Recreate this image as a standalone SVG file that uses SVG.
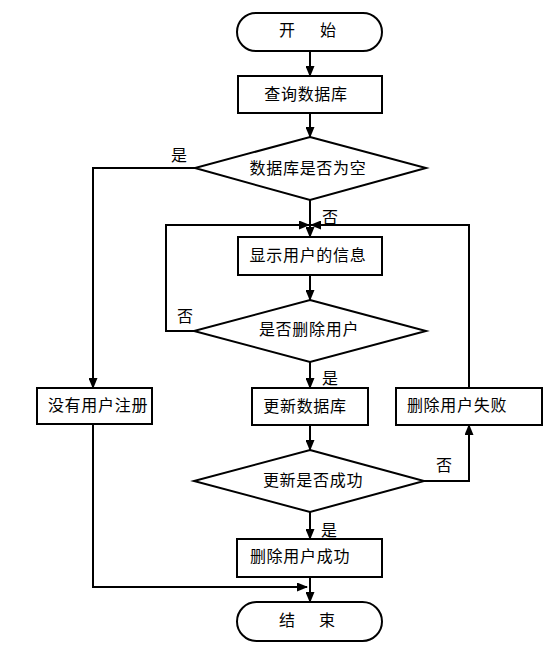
<svg xmlns="http://www.w3.org/2000/svg" width="560" height="649" viewBox="0 0 560 649">
<style>
.s{fill:#fff;stroke:#000;stroke-width:2}
.c{fill:none;stroke:#000;stroke-width:2}
text{font-family:"Noto Sans CJK SC","Liberation Sans",sans-serif;font-size:16px;fill:#000;dominant-baseline:central;letter-spacing:0.7px}
.m{text-anchor:middle}
</style>
<defs>
<marker id="a" markerUnits="userSpaceOnUse" markerWidth="11" markerHeight="9" refX="10" refY="4.5" orient="auto">
<path d="M0,0 L11,4.5 L0,9 z" fill="#000"/>
</marker>
</defs>
<rect width="560" height="649" fill="#fff"/>
<g id="connectors">
<path class="c" d="M310,51 V76" marker-end="url(#a)"/>
<path class="c" d="M310,113 V137" marker-end="url(#a)"/>
<path class="c" d="M310,200 V237" marker-end="url(#a)"/>
<path class="c" d="M195,168 H93 V388" marker-end="url(#a)"/>
<path class="c" d="M310,275 V300" marker-end="url(#a)"/>
<path class="c" d="M194,331 H166 V225 H309" marker-end="url(#a)"/>
<path class="c" d="M310,362 V388" marker-end="url(#a)"/>
<path class="c" d="M469,388 V225 H311" marker-end="url(#a)"/>
<path class="c" d="M310,425 V450" marker-end="url(#a)"/>
<path class="c" d="M424,481 H469 V425" marker-end="url(#a)"/>
<path class="c" d="M310,512 V539" marker-end="url(#a)"/>
<path class="c" d="M310,577 V602" marker-end="url(#a)"/>
<path class="c" d="M93,424 V587 H307" marker-end="url(#a)"/>
<text x="171" y="154">是</text>
<text x="322" y="216">否</text>
<text x="177" y="315">否</text>
<text x="322" y="377">是</text>
<text x="436" y="464">否</text>
<text x="321" y="529">是</text>
</g>
<g id="start">
<rect class="s" x="237" y="13" width="145" height="38" rx="19"/>
<text y="29"><tspan x="279">开</tspan><tspan x="320">始</tspan></text>
</g>
<g id="query">
<rect class="s" x="238" y="76" width="144" height="37"/>
<text class="m" x="306" y="93">查询数据库</text>
</g>
<g id="isEmpty">
<polygon class="s" points="310,137 426,168 310,200 195,168"/>
<text class="m" x="308" y="167">数据库是否为空</text>
</g>
<g id="show">
<rect class="s" x="238" y="237" width="144" height="38"/>
<text class="m" x="308" y="254">显示用户的信息</text>
</g>
<g id="isDelete">
<polygon class="s" points="310,300 426,331 310,362 194,331"/>
<text class="m" x="309" y="328">是否删除用户</text>
</g>
<g id="noUser">
<rect class="s" x="37" y="388" width="115" height="36"/>
<text class="m" x="98" y="404">没有用户注册</text>
</g>
<g id="update">
<rect class="s" x="252" y="388" width="116" height="37"/>
<text class="m" x="305" y="405">更新数据库</text>
</g>
<g id="fail">
<rect class="s" x="396" y="388" width="146" height="37"/>
<text class="m" x="457" y="404">删除用户失败</text>
</g>
<g id="isSuccess">
<polygon class="s" points="310,450 424,481 310,512 194,481"/>
<text class="m" x="313" y="479">更新是否成功</text>
</g>
<g id="success">
<rect class="s" x="237" y="539" width="145" height="38"/>
<text class="m" x="300" y="555">删除用户成功</text>
</g>
<g id="end">
<rect class="s" x="237" y="602" width="145" height="39" rx="19.5"/>
<text y="619"><tspan x="279">结</tspan><tspan x="319">束</tspan></text>
</g>
</svg>
